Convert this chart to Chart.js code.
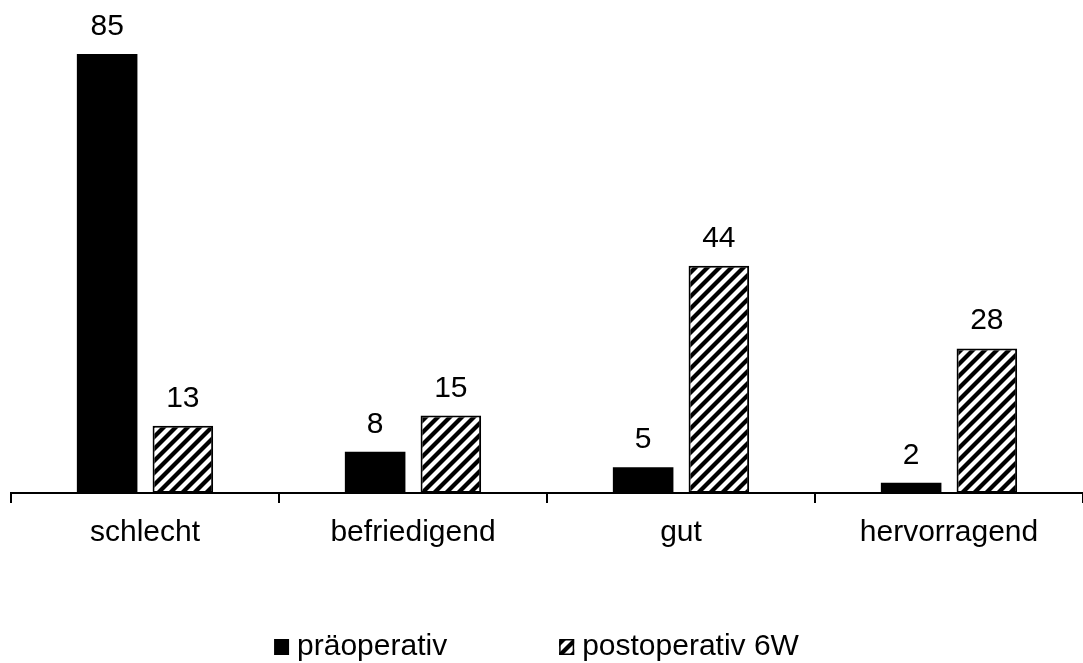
<!DOCTYPE html>
<html>
<head>
<meta charset="utf-8">
<script src="https://cdn.jsdelivr.net/npm/chart.js@4.4.0/dist/chart.umd.min.js"></script>
<style>
  html, body { margin: 0; padding: 0; background: #fff; }
  #wrap { width: 1083px; height: 663px; }
</style>
</head>
<body>
<div id="wrap"><canvas id="chart" width="1083" height="663"></canvas></div>
<script>
// Daten
const categories = ['schlecht', 'befriedigend', 'gut', 'hervorragend'];
const seriesNames = ['präoperativ', 'postoperativ 6W'];
const praeoperativ = [85, 8, 5, 2];
const postoperativ = [13, 15, 44, 28];

const FONT = '"Liberation Sans", Arial, sans-serif';

// Schraffur-Muster (diagonal /), als Parallelogramme gefüllt -> nahtlos
function makeHatch() {
    const c = document.createElement('canvas');
    const s = 12, w = 6;
    c.width = s; c.height = s;
    const g = c.getContext('2d');
    g.fillStyle = '#fff';
    g.fillRect(0, 0, s, s);
    g.fillStyle = '#000';
    for (let k = -1; k <= 1; k++) {
        const x0 = k * s;
        g.beginPath();
        g.moveTo(x0, s);
        g.lineTo(x0 + w, s);
        g.lineTo(x0 + w + s, 0);
        g.lineTo(x0 + s, 0);
        g.closePath();
        g.fill();
    }
    return g.createPattern(c, 'repeat');
}

const ctx = document.getElementById('chart').getContext('2d');
const hatch = makeHatch();

// Werte über den Balken
const valueLabels = {
    id: 'valueLabels',
    afterDatasetsDraw(chart) {
        const c = chart.ctx;
        c.save();
        c.font = '30px ' + FONT;
        c.fillStyle = '#000';
        c.textAlign = 'center';
        c.textBaseline = 'alphabetic';
        chart.data.datasets.forEach((ds, i) => {
            chart.getDatasetMeta(i).data.forEach((bar, j) => {
                c.fillText(String(ds.data[j]), bar.x, bar.y - 19);
            });
        });
        c.restore();
    }
};

// Legende unten, wie im Original
const bottomLegend = {
    id: 'bottomLegend',
    afterDraw(chart) {
        const c = chart.ctx;
        c.save();
        c.font = '30px ' + FONT;
        const box = 15, gapText = 8, gapItem = 112;
        const widths = seriesNames.map(n => box + gapText + c.measureText(n).width);
        const total = widths[0] + gapItem + widths[1];
        let x = (chart.width - total) / 2 - 5;
        const base = 655;
        seriesNames.forEach((name, i) => {
            if (i === 0) {
                c.fillStyle = '#000';
                c.fillRect(x, base - 16, box, 16);
            } else {
                c.fillStyle = hatch;
                c.fillRect(x, base - 16, box, 16);
                c.strokeStyle = '#000';
                c.lineWidth = 1.5;
                c.strokeRect(x + 0.75, base - 15.25, box - 1.5, 14.5);
            }
            c.fillStyle = '#000';
            c.textAlign = 'left';
            c.textBaseline = 'alphabetic';
            c.fillText(name, x + box + gapText, base);
            x += widths[i] + gapItem;
        });
        c.restore();
    }
};

const chart = new Chart(ctx, {
    type: 'bar',
    data: {
        labels: categories,
        datasets: [{
            label: seriesNames[0],
            data: praeoperativ,
            backgroundColor: '#000',
            borderWidth: 0,
            barPercentage: 0.8,
            categoryPercentage: 0.565
        }, {
            label: seriesNames[1],
            data: postoperativ,
            backgroundColor: hatch,
            borderColor: '#000',
            borderWidth: 2,
            borderSkipped: false,
            barPercentage: 0.8,
            categoryPercentage: 0.565
        }]
    },
    options: {
        responsive: false,
        animation: false,
        layout: { padding: { left: 11, right: 0, top: 54, bottom: 100 } },
        plugins: {
            legend: { display: false },
            tooltip: { enabled: false }
        },
        scales: {
            x: {
                border: { display: true, color: '#000', width: 2 },
                grid: {
                    display: true,
                    drawOnChartArea: false,
                    drawTicks: true,
                    tickLength: 10,
                    color: '#000',
                    lineWidth: 2
                },
                ticks: {
                    color: '#000',
                    padding: 12,
                    font: { family: FONT, size: 30 }
                }
            },
            y: {
                display: false,
                min: 0,
                max: 85
            }
        }
    },
    plugins: [valueLabels, bottomLegend]
});
</script>
</body>
</html>
